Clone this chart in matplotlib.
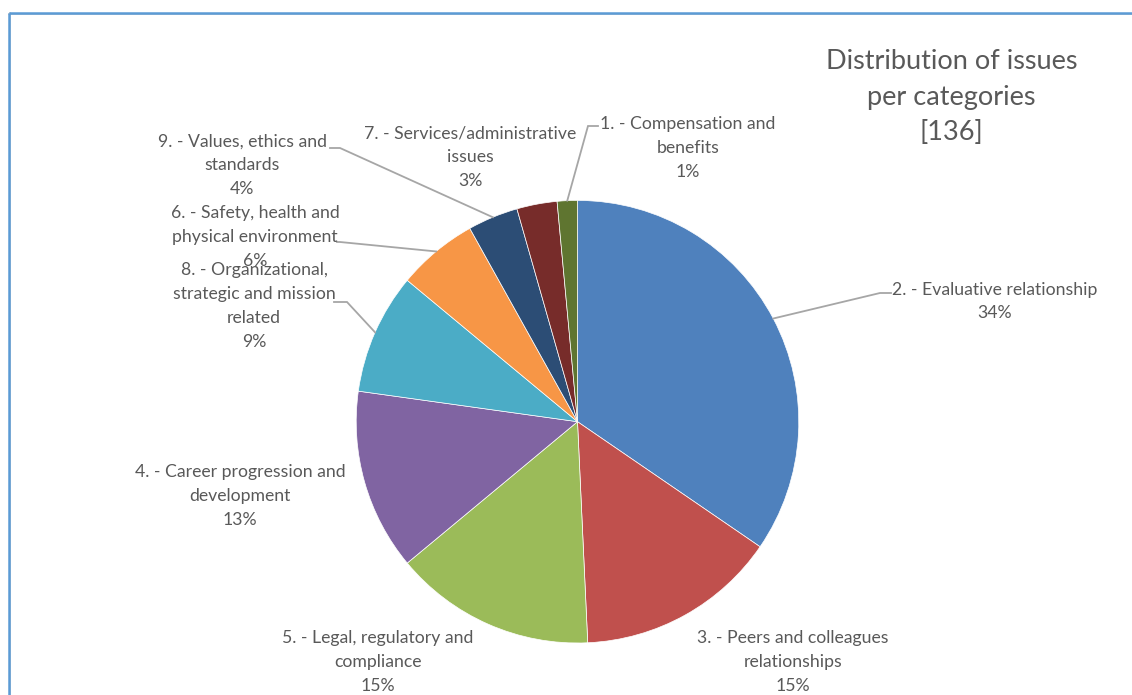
import numpy as np
import matplotlib
matplotlib.use("Agg")
import matplotlib.pyplot as plt

# ---- data (clockwise from 12 o'clock) ----
categories = [
    "2. - Evaluative relationship",
    "3. - Peers and colleagues\nrelationships",
    "5. - Legal, regulatory and\ncompliance",
    "4. - Career progression and\ndevelopment",
    "8. - Organizational,\nstrategic and mission\nrelated",
    "6. - Safety, health and\nphysical environment",
    "9. - Values, ethics and\nstandards",
    "7. - Services/administrative\nissues",
    "1. - Compensation and\nbenefits",
]
counts = [47, 20, 20, 18, 12, 8, 5, 4, 2]
pct_labels = ["34%", "15%", "15%", "13%", "9%", "6%", "4%", "3%", "1%"]
title_lines = ["Distribution of issues", "per categories", "[136]"]

colors = ["#4F81BD", "#C0504D", "#9BBB59", "#8064A2", "#4BACC6",
          "#F79646", "#2C4D75", "#772C2A", "#5F7530"]

W, H = 1132, 695
fig = plt.figure(figsize=(W / 100, H / 100), dpi=100)
ax = fig.add_axes([0, 0, 1, 1])

def Y(y):
    return H - y

cx, cy, R = 577.5, Y(421.7), 221.3
wedges, _ = ax.pie(counts, colors=colors, startangle=90, counterclock=False,
                   center=(cx, cy), radius=R, frame=True,
                   wedgeprops=dict(linewidth=0.5, edgecolor="white"))
ax.set_xlim(0, W)
ax.set_ylim(0, H)
ax.set_aspect("equal")
ax.axis("off")

txt_color = "#595959"
font = "Lato"
fs = 12.7

# label positions (center of text block) and leader elbow points (pixel coords)
label_pos = [
    (995, 301.5), (793, 662), (378, 662), (240, 496), (254, 306),
    (255, 237), (242, 165), (470, 157), (688, 148),
]
leaders = {
    0: ((880, 293), (891, 293)),
    4: ((347, 302), (334, 302)),
    5: ((340, 242), (337, 242)),
    6: ((340, 148), (330, 148)),
    8: ((588, 126), (598, 126)),
}

for i, (w, cat, pct) in enumerate(zip(wedges, categories, pct_labels)):
    x, y = label_pos[i]
    ax.text(x, Y(y), cat + "\n" + pct, ha="center", va="center",
            fontsize=fs, color=txt_color, family=font, linespacing=1.6)
    if i in leaders:
        ang = np.deg2rad((w.theta1 + w.theta2) / 2)
        sx, sy = cx + R * np.cos(ang), cy + R * np.sin(ang)
        (ex, ey), (hx, hy) = leaders[i]
        ax.plot([sx, ex, hx], [sy, Y(ey), Y(hy)], color="#A6A6A6", lw=1.3,
                solid_joinstyle="miter", zorder=1)

ax.text(951.5, Y(97), "\n".join(title_lines), ha="center", va="center",
        fontsize=19.5, color=txt_color, family=font, linespacing=1.52)

# chart frame (top and left edges visible)
ax.plot([9, W], [Y(14), Y(14)], color="#C8C8C8", lw=1.2, zorder=0)
ax.plot([10, 10], [Y(13), 0], color="#C8C8C8", lw=1.2, zorder=0)
ax.plot([8.5, W], [Y(12.5), Y(12.5)], color="#5B9BD5", lw=1.8, zorder=0,
        solid_capstyle="butt")
ax.plot([8.5, 8.5], [Y(12.5), 0], color="#5B9BD5", lw=1.8, zorder=0,
        solid_capstyle="butt")

fig.savefig("out.png", dpi=100)
